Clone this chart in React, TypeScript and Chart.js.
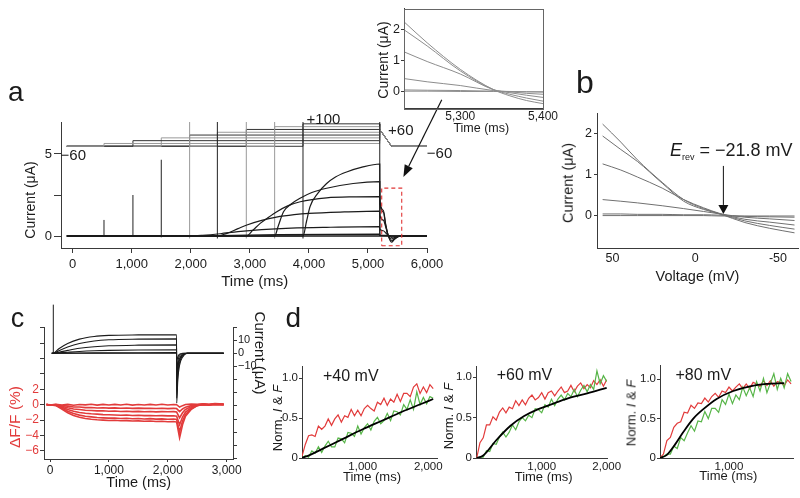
import React, { useEffect, useRef } from 'react';
import { Chart, registerables } from 'chart.js';

Chart.register(...registerables);

const W = 800;
const H = 498;
const FONT = "'Liberation Sans', Arial, Helvetica, sans-serif";
const INK = '#1b1b1b';
const AXIS = '#3a3a3a';
const RED = '#e23b3b';
const GREEN = '#57b548';
const LIGHT = '#8d8d8d';

/* ================= a : voltage protocol (mV) ================= */
const aStepStarts = [530, 1020, 1500, 1980, 2450, 2940, 3420, 3900];
const aStepMv = [-40, -20, 0, 20, 40, 60, 80, 100];
const aHoldMv = -60;
const aRampMv = 60;
const aStepEnd = 5200;
const aRampEnd = 5400;
const aSweep = [-100, 6000];
const aProtoColors = ['#9a9a9a', '#333333', '#9a9a9a', '#333333', '#9a9a9a', '#333333', '#9a9a9a', '#333333'];

/* ================= a : currents (ms, uA) ================= */
const aCurM40 = [[-100, 0], [6000, 0]];
const aCurM20 = [[-100, 0], [5200, 0.01], [5202, 0.02], [5400, 0], [6000, 0]];
const aCur0 = [[-100, 0], [1500, 0], [2500, 0.03], [3500, 0.08], [5200, 0.12], [5202, 0.04], [5300, 0.03], [5400, 0], [6000, 0]];
const aCur20 = [[-100, 0], [1980, 0], [2200, 0.04], [2500, 0.14], [2800, 0.27], [3200, 0.39], [3700, 0.48], [4300, 0.53], [5200, 0.57], [5202, 0.06], [5300, 0.04], [5400, 0], [6000, 0]];
const aCur40 = [[-100, 0], [2450, 0], [2600, 0.15], [2800, 0.45], [2950, 0.67], [3200, 0.95], [3450, 1.15], [3750, 1.3], [4000, 1.38], [4600, 1.47], [5200, 1.52], [5202, 0.42], [5260, 0.32], [5300, 0.2], [5340, 0.04], [5400, -0.08], [5460, -0.04], [5560, 0], [6000, 0]];
const aCur60 = [[-100, 0], [2940, 0], [3050, 0.35], [3175, 0.77], [3300, 1.1], [3457, 1.48], [3650, 1.85], [3853, 2.09], [4300, 2.33], [4800, 2.39], [5200, 2.4], [5202, 1.27], [5260, 0.97], [5300, 0.57], [5340, 0.07], [5400, -0.18], [5450, -0.1], [5560, 0], [6000, 0]];
const aCur80 = [[-100, 0], [3420, 0], [3480, 0.6], [3570, 1.48], [3700, 1.95], [3850, 2.3], [4050, 2.65], [4300, 2.91], [4750, 3.2], [5200, 3.31], [5202, 1.97], [5260, 1.47], [5300, 0.67], [5340, 0.07], [5400, -0.3], [5450, -0.16], [5560, 0], [6000, 0]];
const aCur100 = [[-100, 0], [3900, 0], [3960, 0.9], [4020, 1.8], [4150, 2.6], [4300, 3.2], [4450, 3.6], [4650, 3.92], [4900, 4.2], [5200, 4.39], [5202, 2.22], [5260, 1.57], [5300, 0.72], [5340, 0.07], [5400, -0.38], [5450, -0.2], [5560, 0], [6000, 0]];
const aCurrents = [aCurM40, aCurM20, aCur0, aCur20, aCur40, aCur60, aCur80, aCur100];

/* capacitive transients */
const aSpikeT = [530, 1020, 1500, 1980, 2450, 2940, 3420, 3900, 5200];
const aSpikeTop = [0.98, 2.5, 4.65, 7, 7, 7, 7, 7, 7];
const aSpikeLow = [-0.05, -0.05, -0.08, -0.15, -0.15, -0.15, -0.15, -0.15, 0];
const aSpikeColors = ['#222', '#222', '#222', '#999', '#222', '#999', '#999', '#222', '#222'];

/* zoomed region box and arrow (data units) */
const aBoxT = [5233, 5572];
const aBoxI = [-0.59, 2.92];
const aArrowFrom = [6250, 8.3];
const aArrowTo = [5600, 3.6];

/* ================= inset : tail currents ================= */
const insetT = [5233, 5260, 5300, 5340, 5360, 5380, 5400];
const insetI1 = [2.22, 1.57, 0.72, 0.07, -0.13, -0.28, -0.38];
const insetI2 = [1.97, 1.47, 0.67, 0.07, -0.08, -0.2, -0.3];
const insetI3 = [1.27, 0.97, 0.57, 0.07, -0.03, -0.11, -0.18];
const insetI4 = [0.42, 0.32, 0.2, 0.04, 0.0, -0.05, -0.08];
const insetI5 = [0.06, 0.05, 0.04, 0.02, 0.01, 0.0, -0.01];
const insetI6 = [0.02, 0.02, 0.01, 0.01, 0.0, 0.0, 0.0];

/* ================= b : I-V during ramp ================= */
const bV = [56, 45, 35, 20, 7, -5, -15, -30, -45, -60];
const bI1 = [2.24, 1.8, 1.37, 0.82, 0.4, 0.18, 0.05, -0.16, -0.3, -0.41];
const bI2 = [1.95, 1.62, 1.33, 0.8, 0.36, 0.16, 0.05, -0.12, -0.23, -0.32];
const bI3 = [1.27, 1.12, 0.95, 0.68, 0.4, 0.2, 0.06, -0.08, -0.15, -0.22];
const bI4 = [0.4, 0.36, 0.32, 0.25, 0.18, 0.11, 0.05, -0.03, -0.07, -0.11];
const bI5 = [0.05, 0.05, 0.04, 0.04, 0.03, 0.03, 0.02, -0.01, -0.02, -0.03];
const bI6 = [0.01, 0.01, 0.01, 0.01, 0.01, 0.01, 0.0, 0.0, 0.0, 0.0];
const bArrowV = -17;
const bArrowI = [1.22, 0.05];

/* ================= c : current (uA) and fluorescence (%) ================= */
const cI1 = [[30, 0], [56, 0], [150, 3.5], [300, 7.5], [500, 10.8], [750, 12.8], [1000, 13.6], [1500, 14.0], [2149, 14.1], [2151, -38], [2170, -20], [2200, -9], [2250, -3], [2330, 0], [2950, 0]];
const cI2 = [[30, 0], [56, 0], [150, 2.0], [300, 4.8], [500, 7.5], [750, 9.4], [1000, 10.3], [1500, 10.8], [2149, 11.0], [2151, -34], [2170, -16], [2200, -7], [2250, -2], [2330, 0], [2950, 0]];
const cI3 = [[30, 0], [56, 0], [150, 0.8], [300, 2.2], [500, 3.8], [750, 5.0], [1000, 5.7], [1500, 6.2], [2149, 6.4], [2151, -28], [2170, -12], [2200, -5], [2250, -1.5], [2330, 0], [2950, 0]];
const cI4 = [[30, 0], [56, 0], [150, 0.3], [300, 0.8], [500, 1.4], [750, 1.9], [1000, 2.2], [1500, 2.5], [2149, 2.6], [2151, -20], [2175, -8], [2210, -3], [2280, -0.5], [2330, 0], [2950, 0]];
const cI5 = [[30, 0], [56, 0], [300, 0.1], [750, 0.3], [1500, 0.45], [2149, 0.5], [2151, -12], [2180, -4], [2220, -1], [2300, 0], [2950, 0]];
const cI6 = [[30, 0], [2149, 0], [2151, -5], [2190, -1], [2250, 0], [2950, 0]];
const cCurrents = [cI1, cI2, cI3, cI4, cI5, cI6];
const cOnsetT = 56;
const cOnsetPeak = 37;

const cT = [-60, 0, 100, 200, 300, 400, 500, 600, 700, 800, 900, 1000, 1100, 1200, 1300, 1400, 1500, 1600, 1700, 1800, 1900, 2000, 2100, 2150, 2200, 2250, 2300, 2400, 2500, 2600, 2700, 2800, 2950];
const cF1 = [0.04, -0.05, 0.06, -0.03, 0.05, -0.06, 0.03, -0.02, 0.06, -0.05, 0.04, -0.03, 0.05, -0.04, 0.06, -0.05, 0.03, -0.04, 0.05, -0.03, 0.06, -0.04, 0.03, 0.0, -0.3, -0.12, 0.02, 0.08, 0.04, 0.12, 0.06, 0.14, 0.09];
const cF2 = [0.03, -0.04, 0.02, -0.1, -0.18, -0.3, -0.3, -0.38, -0.36, -0.42, -0.4, -0.44, -0.41, -0.46, -0.43, -0.47, -0.44, -0.48, -0.45, -0.49, -0.46, -0.5, -0.47, -0.5, -0.9, -0.55, -0.32, -0.12, 0.0, 0.06, 0.02, 0.09, 0.04];
const cF3 = [0.02, -0.03, -0.02, -0.2, -0.4, -0.55, -0.62, -0.72, -0.74, -0.8, -0.79, -0.85, -0.82, -0.88, -0.85, -0.9, -0.86, -0.91, -0.88, -0.93, -0.89, -0.92, -0.9, -0.95, -1.7, -1.05, -0.62, -0.25, -0.04, 0.05, 0.0, 0.08, 0.03];
const cF4 = [0.03, -0.02, -0.05, -0.3, -0.62, -0.85, -1.0, -1.1, -1.18, -1.22, -1.28, -1.3, -1.33, -1.36, -1.34, -1.4, -1.37, -1.42, -1.39, -1.44, -1.41, -1.45, -1.43, -1.48, -2.6, -1.6, -0.95, -0.4, -0.08, 0.04, -0.02, 0.07, 0.02];
const cF5 = [0.02, -0.03, -0.08, -0.42, -0.85, -1.15, -1.35, -1.5, -1.58, -1.65, -1.7, -1.74, -1.72, -1.78, -1.76, -1.82, -1.79, -1.85, -1.81, -1.87, -1.84, -1.88, -1.86, -1.92, -3.5, -2.1, -1.25, -0.5, -0.1, 0.03, -0.03, 0.06, 0.01];
const cF6 = [0.01, -0.04, -0.1, -0.55, -1.05, -1.4, -1.62, -1.78, -1.88, -1.95, -2.0, -2.05, -2.02, -2.08, -2.06, -2.12, -2.09, -2.15, -2.11, -2.18, -2.14, -2.2, -2.17, -2.25, -4.3, -2.6, -1.5, -0.6, -0.12, 0.02, -0.04, 0.05, 0.0];
const cFluor = [cF1, cF2, cF3, cF4, cF5, cF6];

/* ================= d : normalised I (green, black fit) and F (red) ================= */
const d1T = [75, 125, 175, 225, 275, 325, 375, 425, 475, 525, 575, 625, 675, 725, 775, 825, 875, 925, 975, 1025, 1075, 1125, 1175, 1225, 1275, 1325, 1375, 1425, 1475, 1525, 1575, 1625, 1675, 1725, 1775, 1825, 1875, 1925, 1975, 2025, 2075];
const d1Red = [0.02, 0.17, 0.28, 0.29, 0.27, 0.4, 0.36, 0.4, 0.49, 0.41, 0.49, 0.54, 0.45, 0.53, 0.51, 0.61, 0.53, 0.6, 0.53, 0.62, 0.66, 0.62, 0.59, 0.7, 0.67, 0.75, 0.66, 0.74, 0.7, 0.8, 0.71, 0.81, 0.81, 0.77, 0.89, 0.93, 0.81, 0.89, 0.82, 0.92, 0.87];
const d1Green = [0.0, 0.03, 0.01, 0.09, 0.06, 0.14, 0.07, 0.15, 0.21, 0.14, 0.14, 0.25, 0.24, 0.19, 0.32, 0.31, 0.27, 0.4, 0.3, 0.38, 0.43, 0.35, 0.46, 0.51, 0.43, 0.47, 0.56, 0.47, 0.59, 0.58, 0.54, 0.67, 0.61, 0.73, 0.61, 0.83, 0.67, 0.76, 0.68, 0.77, 0.75];
const d1Fit = [[75, 0], [200, 0.04], [400, 0.12], [700, 0.24], [1000, 0.36], [1300, 0.47], [1600, 0.58], [1900, 0.68], [2075, 0.74]];

const d2T = [0, 50, 100, 150, 200, 250, 300, 350, 400, 450, 500, 550, 600, 650, 700, 750, 800, 850, 900, 950, 1000, 1050, 1100, 1150, 1200, 1250, 1300, 1350, 1400, 1450, 1500, 1550, 1600, 1650, 1700, 1750, 1800, 1850, 1900, 1950, 2000];
const d2Red = [0.0, 0.19, 0.25, 0.41, 0.41, 0.51, 0.47, 0.57, 0.62, 0.56, 0.63, 0.61, 0.71, 0.65, 0.72, 0.66, 0.74, 0.78, 0.72, 0.75, 0.81, 0.73, 0.81, 0.83, 0.77, 0.83, 0.88, 0.81, 0.83, 0.9, 0.82, 0.89, 0.93, 0.86, 0.91, 0.87, 0.96, 0.91, 0.97, 0.89, 0.97];
const d2Green = [0.0, 0.01, 0.01, 0.09, 0.08, 0.18, 0.17, 0.26, 0.32, 0.26, 0.32, 0.41, 0.35, 0.45, 0.5, 0.46, 0.53, 0.5, 0.61, 0.6, 0.56, 0.66, 0.63, 0.73, 0.65, 0.73, 0.78, 0.72, 0.8, 0.76, 0.85, 0.76, 0.84, 0.9, 0.82, 0.91, 0.85, 1.08, 0.92, 1.02, 0.95];
const d2Fit = [[0, 0], [100, 0.03], [300, 0.22], [520, 0.4], [730, 0.52], [930, 0.6], [1200, 0.68], [1450, 0.75], [1700, 0.8], [2000, 0.87]];

const d3T = [0, 50, 100, 150, 200, 250, 300, 350, 400, 450, 500, 550, 600, 650, 700, 750, 800, 850, 900, 950, 1000, 1050, 1100, 1150, 1200, 1250, 1300, 1350, 1400, 1450, 1500, 1550, 1600, 1650, 1700, 1750, 1800, 1850, 1900];
const d3Red = [0.0, 0.05, 0.22, 0.26, 0.39, 0.44, 0.46, 0.58, 0.57, 0.67, 0.63, 0.7, 0.69, 0.76, 0.71, 0.78, 0.82, 0.77, 0.85, 0.83, 0.9, 0.85, 0.9, 0.94, 0.88, 0.94, 0.88, 0.96, 0.94, 0.91, 0.98, 0.92, 0.98, 0.91, 0.97, 0.96, 0.92, 0.99, 0.94];
const d3Green = [0.0, 0.02, 0.05, 0.05, 0.15, 0.12, 0.26, 0.22, 0.32, 0.41, 0.34, 0.47, 0.46, 0.59, 0.5, 0.63, 0.63, 0.58, 0.74, 0.68, 0.81, 0.69, 0.8, 0.74, 0.9, 0.79, 0.89, 0.78, 0.97, 0.85, 1.01, 0.83, 0.95, 1.07, 0.87, 1.01, 0.89, 1.07, 0.97];
const d3Fit = [[0, 0], [100, 0.04], [217, 0.17], [338, 0.33], [483, 0.5], [628, 0.62], [821, 0.75], [1062, 0.85], [1304, 0.91], [1546, 0.94], [1800, 0.95]];

/* ================= helpers ================= */
const SMOOTH = { cubicInterpolationMode: 'monotone' };

function lineDs(pts: number[][], color: string, width: number, extra: Record<string, unknown> = {}) {
  return {
    data: pts.map((p) => ({ x: p[0], y: p[1] })),
    showLine: true,
    borderColor: color,
    backgroundColor: color,
    borderWidth: width,
    pointRadius: 0,
    pointHoverRadius: 0,
    tension: 0,
    fill: false,
    ...extra,
  };
}
const zip = (xs: number[], ys: number[]) => xs.map((x, i) => [x, ys[i]]);

type Ax = {
  pos: 'left' | 'right' | 'bottom';
  min: number;
  max: number;
  reverse?: boolean;
  ticks: number[];
  labels: Record<string, string>;
  size: number;
  tickLen: number;
  pad: number;
  color?: string;
};

const FIT = 30;

function axis(o: Ax) {
  return {
    type: 'linear',
    position: o.pos,
    min: o.min,
    max: o.max,
    reverse: !!o.reverse,
    afterBuildTicks: (s: any) => {
      s.ticks = o.ticks.map((v) => ({ value: v }));
    },
    afterFit: (s: any) => {
      if (o.pos === 'bottom') s.height = FIT;
      else s.width = FIT;
    },
    ticks: {
      autoSkip: false,
      maxRotation: 0,
      minRotation: 0,
      padding: o.pad,
      color: o.color || INK,
      font: { family: FONT, size: o.size },
      callback: (v: number) => (o.labels[String(v)] !== undefined ? o.labels[String(v)] : ''),
    },
    grid: {
      display: true,
      drawOnChartArea: false,
      drawTicks: o.tickLen > 0,
      tickLength: o.tickLen,
      color: AXIS,
      lineWidth: 1,
    },
    border: { display: true, color: AXIS, width: 1 },
    title: { display: false },
  };
}

type Area = { l: number; t: number; r: number; b: number };

function baseConfig(area: Area, scales: any, datasets: any[], plugins: any[] = [], hasRight = false) {
  return {
    type: 'scatter',
    data: { datasets },
    options: {
      responsive: false,
      maintainAspectRatio: false,
      animation: false,
      events: [],
      layout: {
        padding: {
          left: area.l - FIT,
          top: area.t,
          right: W - area.r - (hasRight ? FIT : 0),
          bottom: H - area.b - FIT,
        },
      },
      plugins: { legend: { display: false }, tooltip: { enabled: false }, title: { display: false } },
      scales,
    },
    plugins,
  };
}

type Arrow = { from: number[]; to: number[]; head: number; headW: number; width: number; color: string };

function arrowPlugin(id: string, arrows: Arrow[]) {
  return {
    id,
    afterDatasetsDraw(chart: any) {
      const ctx = chart.ctx;
      const xs = chart.scales.x;
      const ys = chart.scales.y;
      arrows.forEach((a) => {
        const x1 = xs.getPixelForValue(a.from[0]);
        const y1 = ys.getPixelForValue(a.from[1]);
        const x2 = xs.getPixelForValue(a.to[0]);
        const y2 = ys.getPixelForValue(a.to[1]);
        const ang = Math.atan2(y2 - y1, x2 - x1);
        const bx = x2 - a.head * Math.cos(ang);
        const by = y2 - a.head * Math.sin(ang);
        const nx = (Math.sin(ang) * a.headW) / 2;
        const ny = (-Math.cos(ang) * a.headW) / 2;
        ctx.save();
        ctx.strokeStyle = a.color;
        ctx.fillStyle = a.color;
        ctx.lineWidth = a.width;
        ctx.beginPath();
        ctx.moveTo(x1, y1);
        ctx.lineTo(bx, by);
        ctx.stroke();
        ctx.beginPath();
        ctx.moveTo(x2, y2);
        ctx.lineTo(bx + nx, by + ny);
        ctx.lineTo(bx - nx, by - ny);
        ctx.closePath();
        ctx.fill();
        ctx.restore();
      });
    },
  };
}

const framePlugin = {
  id: 'frame',
  afterDraw(chart: any) {
    const { ctx, chartArea: a } = chart;
    ctx.save();
    ctx.strokeStyle = '#666';
    ctx.lineWidth = 1;
    ctx.strokeRect(Math.round(a.left) + 0.5, Math.round(a.top) + 0.5, Math.round(a.right - a.left), Math.round(a.bottom - a.top));
    ctx.restore();
  },
};

/* ================= chart configs ================= */
const A_PROTO_BASE = 5.47;
const A_PROTO_GAIN = 0.00855;

function configA() {
  const py = (mv: number) => A_PROTO_BASE + (mv - aHoldMv) * A_PROTO_GAIN;
  const protocol = aStepStarts.map((t0, i) =>
    lineDs(
      [
        [aSweep[0], py(aHoldMv)],
        [t0, py(aHoldMv)],
        [t0, py(aStepMv[i])],
        [aStepEnd, py(aStepMv[i])],
        [aStepEnd, py(aRampMv)],
        [aRampEnd, py(aHoldMv)],
        [aSweep[1], py(aHoldMv)],
      ],
      aProtoColors[i],
      1
    )
  );
  const currents = aCurrents.map((pts) => lineDs(pts, INK, 1.2, SMOOTH));
  const spikes = aSpikeT.map((t, i) => lineDs([[t, aSpikeLow[i]], [t, aSpikeTop[i]]], aSpikeColors[i], 1));
  const box = lineDs(
    [
      [aBoxT[0], aBoxI[0]],
      [aBoxT[1], aBoxI[0]],
      [aBoxT[1], aBoxI[1]],
      [aBoxT[0], aBoxI[1]],
      [aBoxT[0], aBoxI[0]],
    ],
    '#e03434',
    1.1,
    { borderDash: [4, 3] }
  );
  const scales = {
    x: axis({ pos: 'bottom', min: -198, max: 6000, ticks: [0, 1000, 2000, 3000, 4000, 5000, 6000], labels: { '0': '0', '1000': '1,000', '2000': '2,000', '3000': '3,000', '4000': '4,000', '5000': '5,000', '6000': '6,000' }, size: 13, tickLen: 5, pad: 4 }),
    y: axis({ pos: 'left', min: -0.73, max: 6.95, ticks: [0, 2.5, 5], labels: { '0': '0', '5': '5' }, size: 13, tickLen: 7, pad: 2 }),
  };
  const arrows = arrowPlugin('arrowA', [{ from: aArrowFrom, to: aArrowTo, head: 12, headW: 9, width: 1.2, color: '#111' }]);
  return baseConfig({ l: 61, t: 122, r: 427, b: 248 }, scales, [box, ...currents, ...spikes, ...protocol], [arrows]);
}

function configInset() {
  const traces = [insetI1, insetI2, insetI3, insetI4, insetI5, insetI6].map((ys) => lineDs(zip(insetT, ys), LIGHT, 1, SMOOTH));
  const scales = {
    x: axis({ pos: 'bottom', min: 5232, max: 5400, ticks: [5300, 5400], labels: { '5300': '5,300', '5400': '5,400' }, size: 12, tickLen: 0, pad: 1 }),
    y: axis({ pos: 'left', min: -0.52, max: 2.67, ticks: [0, 1, 2], labels: { '0': '0', '1': '1', '2': '2' }, size: 12.5, tickLen: 3, pad: 1 }),
  };
  return baseConfig({ l: 404, t: 2, r: 543, b: 108 }, scales, traces, [framePlugin]);
}

function configB() {
  const traces = [bI1, bI2, bI3, bI4, bI5, bI6].map((ys) => lineDs(zip(bV, ys), '#707070', 1, SMOOTH));
  const scales = {
    x: axis({ pos: 'bottom', min: -62.1, max: 59.4, reverse: true, ticks: [50, 0, -50], labels: { '50': '50', '0': '0', '-50': '-50' }, size: 12.5, tickLen: 0, pad: 3 }),
    y: axis({ pos: 'left', min: -0.78, max: 2.51, ticks: [0, 1, 2], labels: { '0': '0', '1': '1', '2': '2' }, size: 12.5, tickLen: 3, pad: 2 }),
  };
  const arrows = arrowPlugin('arrowB', [{ from: [bArrowV, bArrowI[0]], to: [bArrowV, bArrowI[1]], head: 9, headW: 10, width: 1, color: '#111' }]);
  return baseConfig({ l: 597, t: 113, r: 798, b: 248 }, scales, traces, [arrows]);
}

function configC() {
  const black = cCurrents.map((pts) => lineDs(pts, INK, 1.1, { ...SMOOTH, yAxisID: 'y2' }));
  const onset = lineDs([[cOnsetT, 0], [cOnsetT, cOnsetPeak]], INK, 1, { yAxisID: 'y2', clip: false });
  const red = cFluor.map((ys) => lineDs(zip(cT, ys), RED, 1.6, { yAxisID: 'y' }));
  const scales = {
    x: axis({ pos: 'bottom', min: -102, max: 3107, ticks: [0, 1000, 2000, 3000], labels: { '0': '0', '1000': '1,000', '2000': '2,000', '3000': '3,000' }, size: 12, tickLen: 3, pad: 1 }),
    y: axis({ pos: 'left', min: -7.04, max: 10.08, ticks: [-6, -4, -2, 0, 2, 4, 6, 8, 10], labels: { '-6': '\u22126', '-4': '\u22124', '-2': '\u22122', '0': '0', '2': '2' }, size: 12, tickLen: 4, pad: 1, color: RED }),
    y2: axis({ pos: 'right', min: -80.4, max: 20, ticks: [-80, -70, -60, -50, -40, -30, -20, -10, 0, 10, 20], labels: { '10': '10', '0': '0', '-10': '\u221210' }, size: 11, tickLen: 4, pad: 1 }),
  };
  return baseConfig({ l: 44, t: 327, r: 233, b: 459 }, scales, [...black, onset, ...red], [], true);
}

function makeD(area: Area, xMin: number, xMax: number, yMax: number, xTicks: number[], t: number[], red: number[], green: number[], fit: number[][]) {
  const labels: Record<string, string> = { '1000': '1,000', '2000': '2,000' };
  const scales = {
    x: axis({ pos: 'bottom', min: xMin, max: xMax, ticks: xTicks, labels, size: 11.5, tickLen: 0, pad: 2 }),
    y: axis({ pos: 'left', min: 0, max: yMax, ticks: [0, 0.5, 1], labels: { '0': '0', '0.5': '0.5', '1': '1.0' }, size: 11.5, tickLen: 3, pad: 1 }),
  };
  const ds = [lineDs(fit, '#000', 1.8, SMOOTH), lineDs(zip(t, green), GREEN, 1.2), lineDs(zip(t, red), RED, 1.2)];
  return baseConfig(area, scales, ds);
}
const configD1 = () => makeD({ l: 302, t: 366, r: 437, b: 458 }, 75, 2133, 1.154, [1000, 2000], d1T, d1Red, d1Green, d1Fit);
const configD2 = () => makeD({ l: 476, t: 366, r: 607, b: 458 }, -11, 2005, 1.14, [1000, 2000], d2T, d2Red, d2Green, d2Fit);
const configD3 = () => makeD({ l: 660, t: 365, r: 793, b: 458 }, 0, 1928, 1.18, [1000], d3T, d3Red, d3Green, d3Fit);

/* ================= React ================= */
function ChartLayer({ make }: { make: () => any }) {
  const ref = useRef<HTMLCanvasElement | null>(null);
  useEffect(() => {
    if (!ref.current) return undefined;
    const chart = new Chart(ref.current, make());
    return () => chart.destroy();
  }, [make]);
  return <canvas ref={ref} width={W} height={H} style={{ position: 'absolute', left: 0, top: 0, width: W, height: H }} />;
}

function Label(props: { x: number; y: number; size: number; rot?: number; color?: string; left?: boolean; children: React.ReactNode }) {
  const { x, y, size, rot = 0, color = INK, left = false, children } = props;
  return (
    <div
      style={{
        position: 'absolute',
        left: x,
        top: y,
        transform: `translate(${left ? '0' : '-50%'}, -50%) rotate(${rot}deg)`,
        transformOrigin: left ? 'left center' : 'center center',
        fontFamily: FONT,
        fontSize: size,
        lineHeight: 1,
        color,
        whiteSpace: 'nowrap',
      }}
    >
      {children}
    </div>
  );
}

const NormLabel = () => (
  <span>
    Norm. <i>I</i> &amp; <i>F</i>
  </span>
);

export default function App() {
  return (
    <div style={{ position: 'fixed', left: 0, top: 0, width: W, height: H, background: '#fff', overflow: 'hidden' }}>
      <ChartLayer make={configA} />
      <ChartLayer make={configInset} />
      <ChartLayer make={configB} />
      <ChartLayer make={configC} />
      <ChartLayer make={configD1} />
      <ChartLayer make={configD2} />
      <ChartLayer make={configD3} />

      {/* panel letters */}
      <Label x={15.8} y={92} size={28}>a</Label>
      <Label x={585} y={81.7} size={32}>b</Label>
      <Label x={17.5} y={317.7} size={27}>c</Label>
      <Label x={293.3} y={318.3} size={28}>d</Label>

      {/* a */}
      <Label x={30} y={200} size={14} rot={-90}>Current (μA)</Label>
      <Label x={254.7} y={280} size={15}>Time (ms)</Label>
      <Label x={323.5} y={117.5} size={15}>+100</Label>
      <Label x={400.8} y={129.2} size={15}>+60</Label>
      <Label x={73.3} y={154.2} size={15}>−60</Label>
      <Label x={439.5} y={152} size={15}>−60</Label>

      {/* inset */}
      <Label x={382.5} y={60} size={14} rot={-90}>Current (μA)</Label>
      <Label x={481.3} y={127.5} size={12.5}>Time (ms)</Label>

      {/* b */}
      <Label x={567.5} y={183.3} size={14.5} rot={-90}>Current (μA)</Label>
      <Label x={697.5} y={276} size={14.5}>Voltage (mV)</Label>
      <Label x={670} y={150} size={18} left>
        <i>E</i>
        <span style={{ fontSize: 9, position: 'relative', top: 4 }}>rev</span> = −21.8 mV
      </Label>

      {/* c */}
      <Label x={15.3} y={416.7} size={15.5} rot={-90} color={RED}>ΔF/F (%)</Label>
      <Label x={259.5} y={352.5} size={15} rot={90}>Current (μA)</Label>
      <Label x={138.7} y={482} size={14.5}>Time (ms)</Label>

      {/* d */}
      <Label x={350.8} y={375.8} size={16}>+40 mV</Label>
      <Label x={524.5} y={375} size={16}>+60 mV</Label>
      <Label x={703.3} y={375} size={16}>+80 mV</Label>
      <Label x={276.7} y={417.5} size={13} rot={-90}><NormLabel /></Label>
      <Label x={448.3} y={415.8} size={13} rot={-90}><NormLabel /></Label>
      <Label x={631.2} y={413.3} size={13} rot={-90}><NormLabel /></Label>
      <Label x={372} y={476.3} size={13}>Time (ms)</Label>
      <Label x={543.7} y={476} size={13}>Time (ms)</Label>
      <Label x={728.3} y={475} size={13}>Time (ms)</Label>
    </div>
  );
}
